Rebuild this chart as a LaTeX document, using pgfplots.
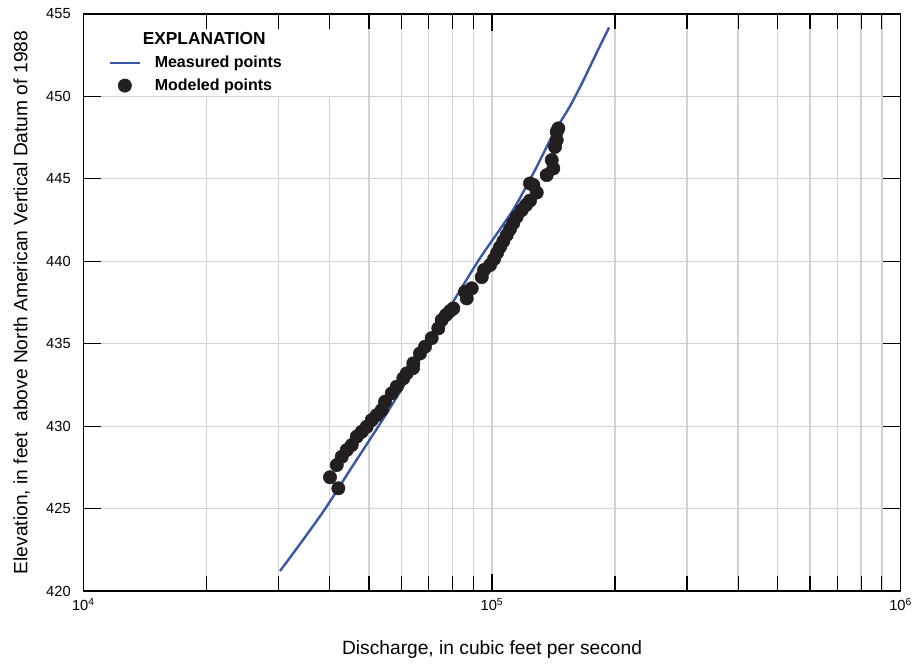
\documentclass[border=0pt]{standalone}
\usepackage{pgfplots}
\pgfplotsset{compat=1.18}
\usepackage{fontspec}
\setmainfont{Liberation Sans}
\definecolor{lineblue}{HTML}{3A56A6}
\definecolor{dotblack}{HTML}{231F20}
\definecolor{gridgray}{HTML}{D2D2D2}
\pgfplotsset{
  linelegend/.style={legend image code/.code={\draw[##1] (0pt,0pt) -- (22pt,0pt);}},
  marklegend/.style={legend image code/.code={\draw[mark repeat=2,mark phase=2,##1] plot coordinates {(0pt,0pt) (11pt,0pt) (22pt,0pt)};}},
}
\begin{document}
\begin{tikzpicture}
\begin{axis}[
  at={(0,0)}, anchor=south west,
  scale only axis, width=612.9pt, height=432.75pt,
  xmode=log, log basis x=10,
  xmin=1e4, xmax=1e6, ymin=420, ymax=455,
  xtick={1e4,1e5,1e6},
  xticklabels={10\textsuperscript{4},10\textsuperscript{5},10\textsuperscript{6}},
  minor xtick={2e4,3e4,4e4,5e4,6e4,7e4,8e4,9e4,2e5,3e5,4e5,5e5,6e5,7e5,8e5,9e5},
  ytick={420,425,430,435,440,445,450,455},
  xmajorgrids, xminorgrids, ymajorgrids,
  grid style={gridgray, line width=0.85pt},
  minor grid style={gridgray, line width=0.85pt},
  axis line style={black, line width=0.8pt},
  every tick/.style={black, line width=0.8pt},
  tick style={black, line width=0.8pt},
  minor tick style={black, line width=0.8pt},
  tick align=inside,
  major tick length=13pt, minor tick length=11pt,
  tick label style={font=\fontsize{11}{13}\selectfont},
  /pgf/number format/assume math mode=true,
  yticklabel style={xshift=-6pt},
  xticklabel style={yshift=-2pt},
  xlabel={Discharge, in cubic feet per second},
  ylabel={Elevation, in feet\ \ above North American Vertical Datum of 1988},
  label style={font=\fontsize{14.4}{17}\selectfont},
  xlabel style={at={(axis description cs:0.5,0)}, anchor=base, yshift=-47.5pt},
  ylabel style={at={(axis description cs:0,0.5)}, anchor=base, yshift=42pt},
  legend cell align=left,
  legend style={at={(axis description cs:0,1)}, anchor=north west, yshift=-12pt,
    fill=white, draw=none, inner xsep=19pt, inner ysep=1.5pt,
    row sep=5pt, column sep=10.5pt,
    nodes={inner sep=0pt, text height=9.5pt, text depth=2.5pt,
      font=\bfseries\fontsize{12}{14}\selectfont}},
]
\addlegendimage{empty legend}
\addlegendentry{\hspace*{-9pt}\fontsize{13}{15}\selectfont EXPLANATION}

\addplot[lineblue, line width=1.8pt, smooth, tension=0.4, linelegend]
coordinates {
(30280,421.21) (33890,422.85) (39020,424.97) (44920,427.34) (54110,430.43)
(63720,433.28) (80280,437.53) (93460,440.19) (112570,443.11) (127400,445.53)
(141100,447.71) (155200,449.41) (167000,450.93) (179700,452.57) (193400,454.18)
};
\addlegendentry{\makebox[132pt][l]{Measured points}}

\addplot[only marks, mark=*, mark size=5pt, draw=dotblack, fill=dotblack, marklegend]
table {
x y
40130 426.90
42060 426.23
41690 427.64
42870 428.14
44100 428.55
45360 428.85
46660 429.36
47990 429.66
49350 429.96
50770 430.37
52220 430.67
53720 430.98
54720 431.48
56820 431.99
58450 432.39
60660 432.90
61830 433.20
64080 433.52
64180 433.81
66650 434.41
68550 434.82
71180 435.34
73880 435.93
75310 436.43
77150 436.74
78920 436.98
80400 437.14
86700 437.75
85870 438.15
89200 438.36
94360 439.04
95590 439.47
98880 439.77
101100 440.13
102850 440.50
104610 440.86
106580 441.22
108640 441.59
110680 441.95
112740 442.32
114900 442.70
118180 443.10
121090 443.41
123870 443.68
128660 444.17
126230 444.62
123870 444.72
136120 445.23
141250 445.63
140000 446.14
142630 446.94
143980 447.35
143980 447.85
145300 448.06
};
\addlegendentry{Modeled points}
\end{axis}
\pgfresetboundingbox
\path[use as bounding box] (-62.55pt,-54.75pt) rectangle (621.45pt,443.25pt);
\end{tikzpicture}
\end{document}
